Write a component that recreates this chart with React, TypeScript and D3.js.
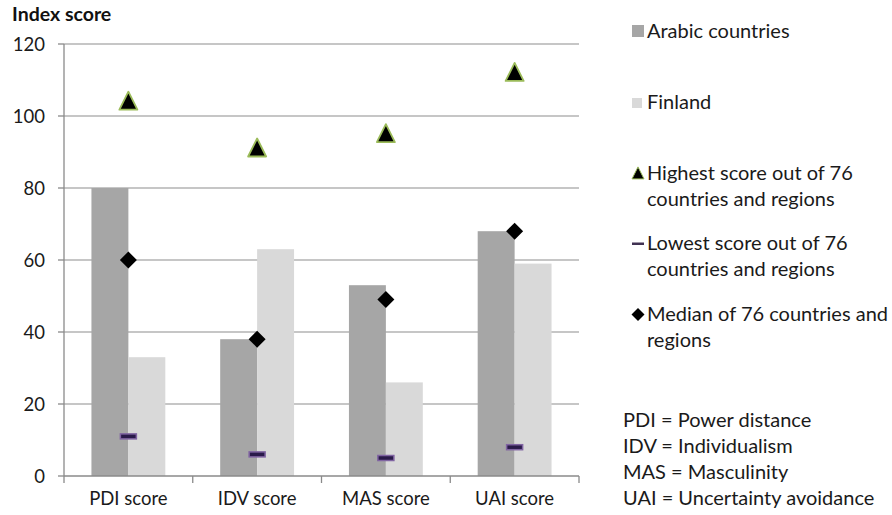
import * as d3 from 'd3'

const categories = ['PDI score', 'IDV score', 'MAS score', 'UAI score']
const arabic = [80, 38, 53, 68]
const finland = [33, 63, 26, 59]
const highest = [104, 91, 95, 112]
const lowest = [11, 6, 5, 8]
const median = [60, 38, 49, 68]
const yTicks = [0, 20, 40, 60, 80, 100, 120]
const abbreviations = ['PDI = Power distance', 'IDV = Individualism', 'MAS = Masculinity', 'UAI = Uncertainty avoidance']

const W = 892
const H = 515
const FONT = 'Lato, "Open Sans", sans-serif'

const triPath = (cx: number, cy: number, s: number) =>
  `M${cx},${cy - s * 0.55} L${cx + s / 2},${cy + s * 0.45} L${cx - s / 2},${cy + s * 0.45} Z`
const diaPath = (cx: number, cy: number, r: number) =>
  `M${cx},${cy - r} L${cx + r},${cy} L${cx},${cy + r} L${cx - r},${cy} Z`

export default function App() {
  const x = d3.scaleBand<string>().domain(categories).range([64, 579])
  const bw = x.bandwidth()
  const x1 = d3.scaleBand<string>().domain(['arabic', 'finland']).range([0, bw]).paddingOuter(0.743)
  const y = d3.scaleLinear().domain([0, 120]).range([476, 44])
  const mid = (c: string) => (x(c) ?? 0) + bw / 2

  const legend = [
    { key: 'arabic', lines: ['Arabic countries'], y: 38 },
    { key: 'finland', lines: ['Finland'], y: 109 },
    { key: 'high', lines: ['Highest score out of 76', 'countries and regions'], y: 180 },
    { key: 'low', lines: ['Lowest score out of 76', 'countries and regions'], y: 250 },
    { key: 'med', lines: ['Median of 76 countries and', 'regions'], y: 321 },
  ]

  return (
    <svg width={W} height={H} style={{ position: 'absolute', left: 0, top: 0, background: '#fff' }} fontFamily={FONT}>
      {/* gridlines */}
      {yTicks.map((t) => (
        <g key={t}>
          {t > 0 && <line x1={64} x2={579} y1={y(t)} y2={y(t)} stroke="#b3b3b3" strokeWidth={1.5} />}
          <line x1={58} x2={64} y1={y(t)} y2={y(t)} stroke="#8a8a8a" strokeWidth={1.3} />
          <text x={45} y={y(t) + 6.5} textAnchor="end" fontSize={18.5} fill="#1a1a1a">
            {t}
          </text>
        </g>
      ))}
      <text x={12} y={21} fontSize={19.5} fontWeight="bold" fill="#111">
        Index score
      </text>

      {/* bars */}
      {categories.map((c, i) => (
        <g key={c}>
          <rect x={(x(c) ?? 0) + (x1('arabic') ?? 0)} y={y(arabic[i])} width={x1.bandwidth()} height={y(0) - y(arabic[i])} fill="#a6a6a6" />
          <rect x={(x(c) ?? 0) + (x1('finland') ?? 0)} y={y(finland[i])} width={x1.bandwidth()} height={y(0) - y(finland[i])} fill="#d9d9d9" />
        </g>
      ))}

      {/* axes */}
      <line x1={64} x2={64} y1={y(120)} y2={y(0)} stroke="#8a8a8a" strokeWidth={1.3} />
      <line x1={64} x2={579} y1={y(0)} y2={y(0)} stroke="#8a8a8a" strokeWidth={1.3} />
      {[...categories.map((c) => x(c) ?? 0), 579].map((px, i) => (
        <line key={i} x1={px} x2={px} y1={y(0)} y2={y(0) + 7} stroke="#8a8a8a" strokeWidth={1.3} />
      ))}
      {categories.map((c) => (
        <text key={c} x={mid(c)} y={505} textAnchor="middle" fontSize={18.5} fill="#1a1a1a">
          {c}
        </text>
      ))}

      {/* markers */}
      {categories.map((c, i) => (
        <g key={c}>
          <path d={triPath(mid(c), y(highest[i]), 18)} fill="#000" stroke="#9bbb59" strokeWidth={1.8} strokeLinejoin="round" />
          <rect x={mid(c) - 8} y={y(lowest[i]) - 2.5} width={16} height={5} fill="#2a1a4a" stroke="#8064a2" strokeWidth={1.5} />
          <path d={diaPath(mid(c), y(median[i]), 8.5)} fill="#000" />
        </g>
      ))}

      {/* legend */}
      {legend.map((l) => (
        <g key={l.key}>
          {l.key === 'arabic' && <rect x={632} y={l.y - 13} width={12} height={12} fill="#a6a6a6" />}
          {l.key === 'finland' && <rect x={632} y={l.y - 11} width={10} height={10} fill="#d9d9d9" />}
          {l.key === 'high' && <path d={triPath(638, l.y - 6.5, 12)} fill="#000" stroke="#9bbb59" strokeWidth={1} />}
          {l.key === 'low' && <rect x={632} y={l.y - 7.5} width={12} height={2.5} fill="#403152" />}
          {l.key === 'med' && <path d={diaPath(638, l.y - 6.5, 6.5)} fill="#000" />}
          {l.lines.map((s, j) => (
            <text key={j} x={647} y={l.y + j * 26} fontSize={20} fill="#1a1a1a">
              {s}
            </text>
          ))}
        </g>
      ))}

      {abbreviations.map((s, i) => (
        <text key={s} x={623} y={427 + i * 26} fontSize={20} fill="#1a1a1a">
          {s}
        </text>
      ))}
    </svg>
  )
}
